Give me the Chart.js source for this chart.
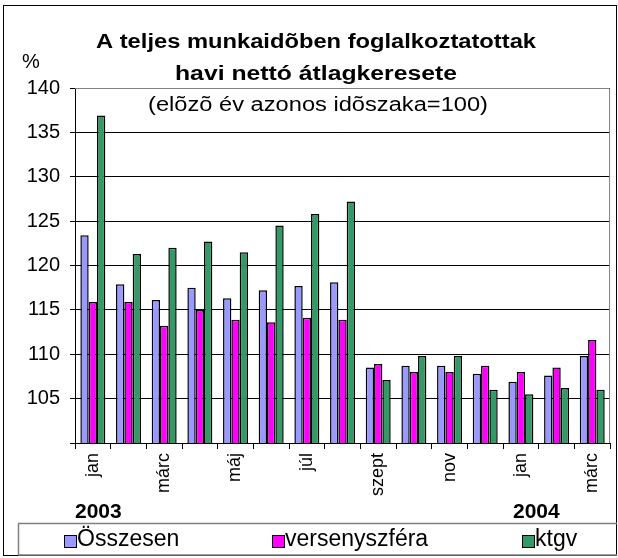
<!DOCTYPE html>
<html>
<head>
<meta charset="utf-8">
<script src="https://cdn.jsdelivr.net/npm/chart.js@4.4.1/dist/chart.umd.min.js"></script>
<style>
  body { margin: 0; background: #fff; }
  #wrap { width: 618px; height: 558px; position: relative; }
</style>
</head>
<body>
<div id="wrap"><canvas id="keresetChart" width="618" height="558"></canvas></div>
<script>
// havi címkék (minden második látszik)
const months = ['jan', 'febr', 'márc', 'ápr', 'máj', 'jún', 'júl', 'aug', 'szept', 'okt', 'nov', 'dec', 'jan', 'febr', 'márc'];
const osszesen = [123.4, 117.9, 116.1, 117.5, 116.3, 117.2, 117.7, 118.1, 108.5, 108.7, 108.7, 107.8, 106.9, 107.6, 109.8];
const versenyszfera = [115.9, 115.9, 113.2, 115.0, 113.9, 113.6, 114.1, 113.9, 108.9, 108.0, 108.0, 108.7, 108.0, 108.5, 111.6];
const ktgv = [136.9, 121.3, 122.0, 122.7, 121.5, 124.5, 125.8, 127.2, 107.1, 109.8, 109.8, 106.0, 105.5, 106.2, 106.0];
const yTicks = [100, 105, 110, 115, 120, 125, 130, 135, 140];
const seriesNames = ['Összesen', 'versenyszféra', 'ktgv'];
const seriesColors = ['#9999FF', '#FF00FF', '#339966'];

const FONT = 'Arial, "Liberation Sans", sans-serif';

// szöveg adott szélességre nyújtva
function stretchText(ctx, text, cx, y, width) {
  const w = ctx.measureText(text).width;
  ctx.save();
  ctx.translate(cx, y);
  ctx.scale(width / w, 1);
  ctx.textAlign = 'center';
  ctx.fillText(text, 0, 0);
  ctx.restore();
}

// címek, évszámok, keret és jelmagyarázat
const decorations = {
  id: 'decorations',
  afterDraw(chart) {
    const ctx = chart.ctx;
    const area = chart.chartArea;
    ctx.save();
    // plot area border top/right
    ctx.strokeStyle = '#808080';
    ctx.lineWidth = 1;
    ctx.beginPath();
    ctx.moveTo(area.left, area.top + 0.5);
    ctx.lineTo(area.right - 0.5, area.top + 0.5);
    ctx.lineTo(area.right - 0.5, area.bottom);
    ctx.stroke();

    // outer frame
    ctx.strokeStyle = '#000';
    ctx.strokeRect(3.5, 5.5, 613, 550);

    ctx.fillStyle = '#000';
    ctx.textBaseline = 'alphabetic';
    ctx.font = 'bold 20px ' + FONT;
    stretchText(ctx, 'A teljes munkaidõben foglalkoztatottak', 316, 48, 440);
    stretchText(ctx, 'havi nettó átlagkeresete', 316, 80, 282);
    ctx.font = '20px ' + FONT;
    stretchText(ctx, '(elõzõ év azonos idõszaka=100)', 318, 111, 340);
    ctx.textAlign = 'left';
    ctx.fillText('%', 22, 68);

    ctx.font = 'bold 21px ' + FONT;
    ctx.fillText('2003', 75, 518);
    ctx.fillText('2004', 513, 518);

    // legend box
    ctx.strokeStyle = '#808080';
    ctx.lineWidth = 1.5;
    ctx.beginPath();
    ctx.moveTo(18, 523.5);
    ctx.lineTo(617, 523.5);
    ctx.moveTo(18, 555);
    ctx.lineTo(617, 555);
    ctx.moveTo(18.5, 523.5);
    ctx.lineTo(18.5, 555);
    ctx.stroke();

    const legendX = [64, 272, 522];
    ctx.font = '23px ' + FONT;
    ctx.textBaseline = 'middle';
    chart.data.datasets.forEach((ds, i) => {
      ctx.fillStyle = ds.backgroundColor;
      ctx.fillRect(legendX[i], 535, 12, 12);
      ctx.strokeStyle = '#000';
      ctx.lineWidth = 1;
      ctx.strokeRect(legendX[i] + 0.5, 535.5, 12, 12);
      ctx.fillStyle = '#000';
      ctx.fillText(ds.label, legendX[i] + 13, 540);
    });
    ctx.restore();
  }
};

new Chart(document.getElementById('keresetChart'), {
  type: 'bar',
  data: {
    labels: months,
    datasets: [
      { label: seriesNames[0], data: osszesen },
      { label: seriesNames[1], data: versenyszfera },
      { label: seriesNames[2], data: ktgv }
    ].map((ds, i) => Object.assign(ds, {
      backgroundColor: seriesColors[i],
      borderColor: '#000',
      borderWidth: 1.5,
      categoryPercentage: 0.7,
      barPercentage: 1.0
    }))
  },
  options: {
    responsive: false,
    animation: false,
    layout: { padding: { left: 0, top: 88, right: 5, bottom: 0 } },
    plugins: {
      legend: { display: false },
      tooltip: { enabled: false }
    },
    scales: {
      x: {
        grid: { offset: true, drawOnChartArea: false, color: '#000', tickLength: 6 },
        border: { color: '#000' },
        ticks: {
          autoSkip: false,
          minRotation: 90,
          maxRotation: 90,
          padding: 4,
          color: '#000',
          font: { family: FONT, size: 18 },
          callback: (v, i) => (i % 2 === 0 ? months[i] : '')
        },
        afterFit: s => { s.height = 115; }
      },
      y: {
        min: yTicks[0],
        max: yTicks[yTicks.length - 1],
        afterBuildTicks: s => { s.ticks = yTicks.map(v => ({ value: v })); },
        grid: { color: '#000', tickLength: 5 },
        border: { color: '#000' },
        ticks: {
          padding: 10,
          color: '#000',
          font: { family: FONT, size: 20 },
          callback: v => (v === 100 ? '' : v)
        },
        afterFit: s => { s.width = 75; }
      }
    }
  },
  plugins: [decorations]
});
</script>
</body>
</html>
